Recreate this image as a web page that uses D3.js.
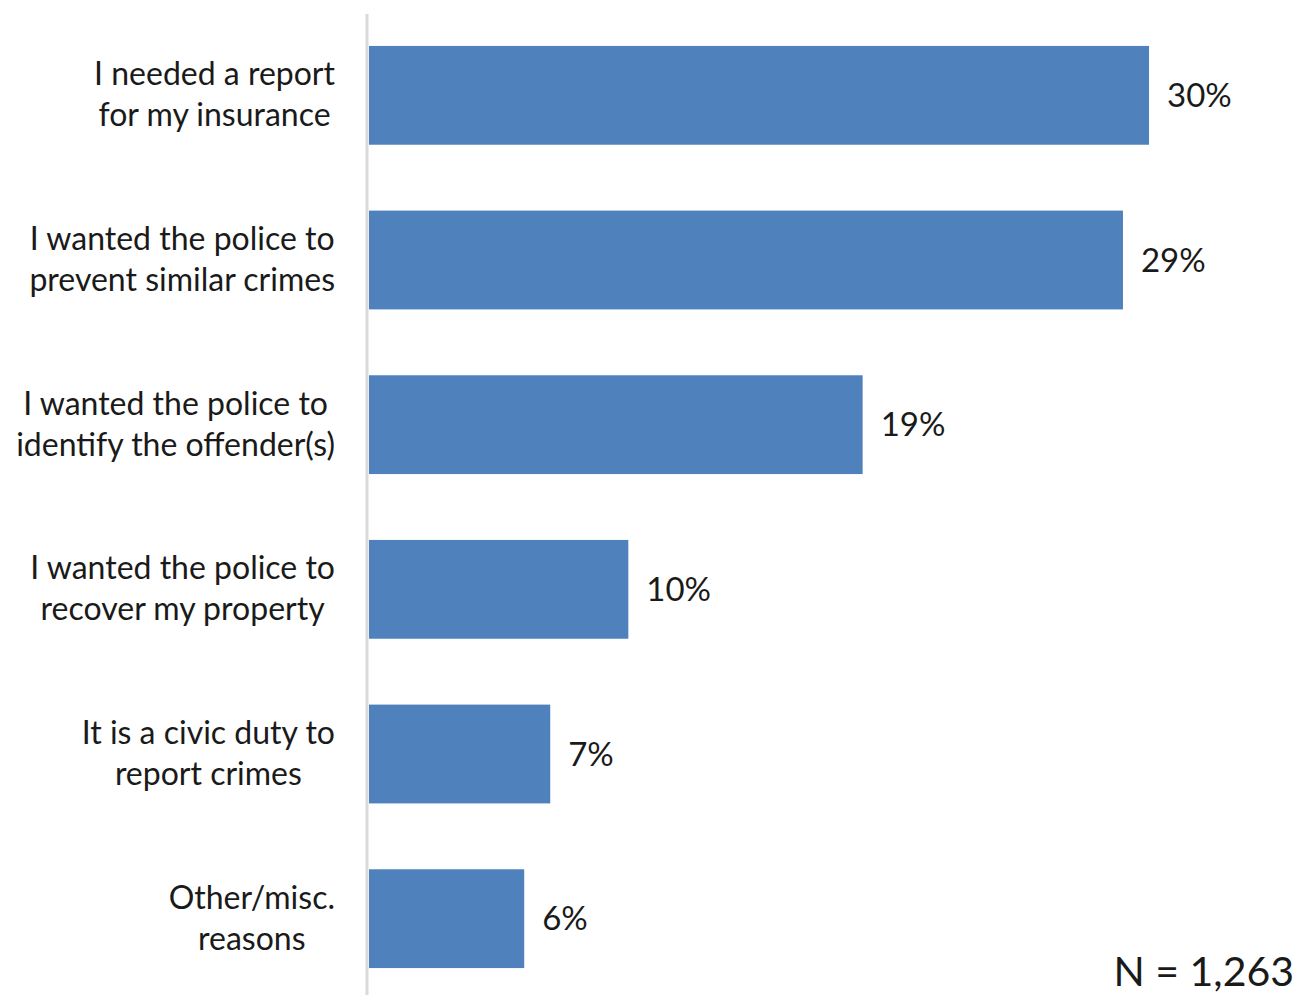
<!DOCTYPE html>
<html>
<head>
<meta charset="utf-8">
<script src="https://cdn.jsdelivr.net/npm/d3@7"></script>
<style>
  html, body { margin: 0; padding: 0; background: #fff; }
  svg { display: block; }
  text { font-family: Lato, "Open Sans", sans-serif; fill: #1a1a1a; }
</style>
</head>
<body>
<svg id="chart" width="1299" height="995"></svg>
<script>
// Reasons given for reporting the crime to the police
const categories = [
  ["I needed a report", "for my insurance"],
  ["I wanted the police to", "prevent similar crimes"],
  ["I wanted the police to", "identify the offender(s)"],
  ["I wanted the police to", "recover my property"],
  ["It is a civic duty to", "report crimes"],
  ["Other/misc.", "reasons"]
];
const values = [30, 29, 19, 10, 7, 6];
const sampleNote = "N = 1,263";

const svg = d3.select("#chart");
const axisX = 368;
const labelRight = 335;

const x = d3.scaleLinear().domain([0, 30]).range([axisX, 1149]);
const y = d3.scaleBand()
  .domain(d3.range(categories.length))
  .range([13, 1001])
  .paddingInner(0.4)
  .paddingOuter(0.2);

// bars
svg.selectAll("rect.bar")
  .data(values)
  .join("rect")
  .attr("class", "bar")
  .attr("x", x(0) + 1)
  .attr("y", (d, i) => y(i))
  .attr("width", d => x(d) - x(0) - 1)
  .attr("height", y.bandwidth())
  .attr("fill", "#4f81bd");

// category axis line
svg.append("line")
  .attr("x1", axisX - 1).attr("x2", axisX - 1)
  .attr("y1", 14).attr("y2", 995)
  .attr("stroke", "#d9d9d9")
  .attr("stroke-width", 3);

// category labels: two centred lines, the block flush against the axis
const lineGap = 41;
const labels = svg.selectAll("text.cat")
  .data(categories)
  .join("text")
  .attr("class", "cat")
  .attr("text-anchor", "middle")
  .attr("font-size", 32);
labels.selectAll("tspan")
  .data((d, i) => d.map((t, j) => ({ t, i, j })))
  .join("tspan")
  .attr("y", d => y(d.i) + y.bandwidth() / 2 + (d.j - 0.5) * lineGap)
  .attr("dy", "0.33em")
  .text(d => d.t);
labels.each(function () {
  const spans = d3.select(this).selectAll("tspan");
  const widest = d3.max(spans.nodes(), n => n.getComputedTextLength());
  spans.attr("x", labelRight - widest / 2);
});

// value labels
svg.selectAll("text.val")
  .data(values)
  .join("text")
  .attr("class", "val")
  .attr("x", d => x(d) + 18)
  .attr("y", (d, i) => y(i) + y.bandwidth() / 2)
  .attr("dy", "0.35em")
  .attr("font-size", 33)
  .text(d => d + "%");

// sample size note
svg.append("text")
  .attr("x", 1294)
  .attr("y", 986)
  .attr("text-anchor", "end")
  .attr("font-size", 41)
  .text(sampleNote);
</script>
</body>
</html>
